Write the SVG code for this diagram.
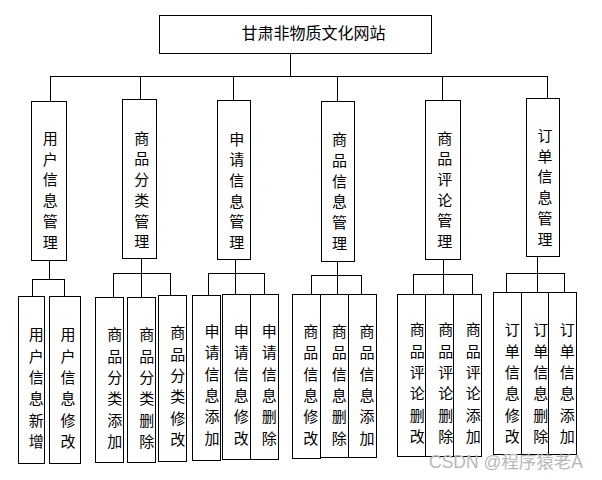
<svg xmlns="http://www.w3.org/2000/svg" width="602" height="480" viewBox="0 0 602 480">
<style>
rect{fill:#fff;stroke:#000;stroke-width:1}
.c line{stroke:#000;stroke-width:1}
text{font-family:"Noto Sans CJK SC","Noto Sans",sans-serif;font-size:15px;fill:#000;text-anchor:middle;dominant-baseline:central}
.t{font-size:16px}
.wm{font-family:"Liberation Sans","Noto Sans CJK SC",sans-serif;font-size:17.5px;fill:#b8b8b8;text-anchor:start;dominant-baseline:auto}
</style>
<rect width="602" height="480" style="fill:#fff;stroke:none"/>
<g class="c" id="connectors">
<line x1="290.5" y1="53" x2="290.5" y2="76.5"/>
<line x1="50" y1="76.5" x2="548" y2="76.5"/>
<line x1="50.5" y1="76.5" x2="50.5" y2="101"/>
<line x1="140.5" y1="76.5" x2="140.5" y2="99"/>
<line x1="233.5" y1="76.5" x2="233.5" y2="100"/>
<line x1="337.5" y1="76.5" x2="337.5" y2="101"/>
<line x1="442.5" y1="76.5" x2="442.5" y2="100"/>
<line x1="547.5" y1="76.5" x2="547.5" y2="98"/>
<line x1="49.5" y1="260" x2="49.5" y2="279.5"/>
<line x1="32" y1="279.5" x2="65" y2="279.5"/>
<line x1="32.5" y1="279.5" x2="32.5" y2="296"/>
<line x1="64.5" y1="279.5" x2="64.5" y2="296"/>
<line x1="141.5" y1="258" x2="141.5" y2="297"/>
<line x1="113" y1="273.5" x2="171" y2="273.5"/>
<line x1="113.5" y1="273.5" x2="113.5" y2="297"/>
<line x1="170.5" y1="273.5" x2="170.5" y2="295"/>
<line x1="235.5" y1="259" x2="235.5" y2="294"/>
<line x1="208" y1="273.5" x2="265" y2="273.5"/>
<line x1="208.5" y1="273.5" x2="208.5" y2="295"/>
<line x1="264.5" y1="273.5" x2="264.5" y2="294"/>
<line x1="337.5" y1="261" x2="337.5" y2="294"/>
<line x1="311" y1="275.5" x2="362" y2="275.5"/>
<line x1="311.5" y1="275.5" x2="311.5" y2="294"/>
<line x1="361.5" y1="275.5" x2="361.5" y2="294"/>
<line x1="443.5" y1="259" x2="443.5" y2="294"/>
<line x1="413" y1="274.5" x2="473" y2="274.5"/>
<line x1="413.5" y1="274.5" x2="413.5" y2="294"/>
<line x1="472.5" y1="274.5" x2="472.5" y2="294"/>
<line x1="537.5" y1="256" x2="537.5" y2="292"/>
<line x1="506" y1="273.5" x2="565" y2="273.5"/>
<line x1="506.5" y1="273.5" x2="506.5" y2="292"/>
<line x1="564.5" y1="273.5" x2="564.5" y2="292"/>
</g>
<g id="root">
<rect x="159.5" y="15.5" width="272" height="38"/>
<text class="t" x="313.5" y="32">甘肃非物质文化网站</text>
</g>
<g id="m1"><rect x="31.5" y="101.5" width="35" height="159"/>
<text><tspan x="50.3" y="137">用</tspan><tspan x="50.3" y="157.7">户</tspan><tspan x="50.3" y="178.4">信</tspan><tspan x="50.3" y="199.1">息</tspan><tspan x="50.3" y="219.8">管</tspan><tspan x="50.3" y="240.5">理</tspan></text></g>
<g id="m2"><rect x="122.5" y="99.5" width="34" height="159"/>
<text><tspan x="141.7" y="136.7">商</tspan><tspan x="141.7" y="157.4">品</tspan><tspan x="141.7" y="178.1">分</tspan><tspan x="141.7" y="198.8">类</tspan><tspan x="141.7" y="219.5">管</tspan><tspan x="141.7" y="240.2">理</tspan></text></g>
<g id="m3"><rect x="217.5" y="100.5" width="33" height="159"/>
<text><tspan x="236.7" y="137.5">申</tspan><tspan x="236.7" y="158.2">请</tspan><tspan x="236.7" y="178.9">信</tspan><tspan x="236.7" y="199.6">息</tspan><tspan x="236.7" y="220.3">管</tspan><tspan x="236.7" y="241">理</tspan></text></g>
<g id="m4"><rect x="321.5" y="101.5" width="33" height="160"/>
<text><tspan x="339.5" y="138.2">商</tspan><tspan x="339.5" y="158.9">品</tspan><tspan x="339.5" y="179.6">信</tspan><tspan x="339.5" y="200.3">息</tspan><tspan x="339.5" y="221">管</tspan><tspan x="339.5" y="241.7">理</tspan></text></g>
<g id="m5"><rect x="425.5" y="100.5" width="35" height="159"/>
<text><tspan x="444.7" y="136.5">商</tspan><tspan x="444.7" y="157.2">品</tspan><tspan x="444.7" y="177.9">评</tspan><tspan x="444.7" y="198.6">论</tspan><tspan x="444.7" y="219.3">管</tspan><tspan x="444.7" y="240">理</tspan></text></g>
<g id="m6"><rect x="526.5" y="98.5" width="33" height="158"/>
<text><tspan x="545" y="134">订</tspan><tspan x="545" y="154.7">单</tspan><tspan x="545" y="175.4">信</tspan><tspan x="545" y="196.1">息</tspan><tspan x="545" y="216.8">管</tspan><tspan x="545" y="237.5">理</tspan></text></g>
<g id="l1"><rect x="18.5" y="296.5" width="26" height="167"/>
<text><tspan x="36.3" y="333.3">用</tspan><tspan x="36.3" y="354.6">户</tspan><tspan x="36.3" y="375.9">信</tspan><tspan x="36.3" y="397.2">息</tspan><tspan x="36.3" y="418.5">新</tspan><tspan x="36.3" y="439.8">增</tspan></text></g>
<g id="l2"><rect x="49.5" y="296.5" width="31" height="167"/>
<text><tspan x="68" y="333.3">用</tspan><tspan x="68" y="354.6">户</tspan><tspan x="68" y="375.9">信</tspan><tspan x="68" y="397.2">息</tspan><tspan x="68" y="418.5">修</tspan><tspan x="68" y="439.8">改</tspan></text></g>
<g id="l3"><rect x="95.5" y="297.5" width="28" height="165"/>
<text><tspan x="114.7" y="333.3">商</tspan><tspan x="114.7" y="354.6">品</tspan><tspan x="114.7" y="375.9">分</tspan><tspan x="114.7" y="397.2">类</tspan><tspan x="114.7" y="418.5">添</tspan><tspan x="114.7" y="439.8">加</tspan></text></g>
<g id="l4"><rect x="127.5" y="297.5" width="28" height="165"/>
<text><tspan x="146.7" y="333.3">商</tspan><tspan x="146.7" y="354.6">品</tspan><tspan x="146.7" y="375.9">分</tspan><tspan x="146.7" y="397.2">类</tspan><tspan x="146.7" y="418.5">删</tspan><tspan x="146.7" y="439.8">除</tspan></text></g>
<g id="l5"><rect x="158.5" y="295.5" width="28" height="166"/>
<text><tspan x="177.7" y="331.3">商</tspan><tspan x="177.7" y="352.6">品</tspan><tspan x="177.7" y="373.9">分</tspan><tspan x="177.7" y="395.2">类</tspan><tspan x="177.7" y="416.5">修</tspan><tspan x="177.7" y="437.8">改</tspan></text></g>
<g id="l6"><rect x="192.5" y="295.5" width="28" height="165"/>
<text><tspan x="212" y="330">申</tspan><tspan x="212" y="351.3">请</tspan><tspan x="212" y="372.6">信</tspan><tspan x="212" y="393.9">息</tspan><tspan x="212" y="415.2">添</tspan><tspan x="212" y="436.5">加</tspan></text></g>
<g id="l7"><rect x="222.5" y="294.5" width="28" height="165"/>
<text><tspan x="241.3" y="330">申</tspan><tspan x="241.3" y="351.3">请</tspan><tspan x="241.3" y="372.6">信</tspan><tspan x="241.3" y="393.9">息</tspan><tspan x="241.3" y="415.2">修</tspan><tspan x="241.3" y="436.5">改</tspan></text></g>
<g id="l8"><rect x="250.5" y="294.5" width="28" height="165"/>
<text><tspan x="269.3" y="330">申</tspan><tspan x="269.3" y="351.3">请</tspan><tspan x="269.3" y="372.6">信</tspan><tspan x="269.3" y="393.9">息</tspan><tspan x="269.3" y="415.2">删</tspan><tspan x="269.3" y="436.5">除</tspan></text></g>
<g id="l9"><rect x="292.5" y="294.5" width="28" height="164"/>
<text><tspan x="310.7" y="330">商</tspan><tspan x="310.7" y="351.3">品</tspan><tspan x="310.7" y="372.6">信</tspan><tspan x="310.7" y="393.9">息</tspan><tspan x="310.7" y="415.2">修</tspan><tspan x="310.7" y="436.5">改</tspan></text></g>
<g id="l10"><rect x="320.5" y="294.5" width="28" height="163"/>
<text><tspan x="339.3" y="330">商</tspan><tspan x="339.3" y="351.3">品</tspan><tspan x="339.3" y="372.6">信</tspan><tspan x="339.3" y="393.9">息</tspan><tspan x="339.3" y="415.2">删</tspan><tspan x="339.3" y="436.5">除</tspan></text></g>
<g id="l11"><rect x="348.5" y="294.5" width="28" height="163"/>
<text><tspan x="367" y="330">商</tspan><tspan x="367" y="351.3">品</tspan><tspan x="367" y="372.6">信</tspan><tspan x="367" y="393.9">息</tspan><tspan x="367" y="415.2">添</tspan><tspan x="367" y="436.5">加</tspan></text></g>
<g id="l12"><rect x="397.5" y="294.5" width="28" height="162"/>
<text><tspan x="417.3" y="328.3">商</tspan><tspan x="417.3" y="349.6">品</tspan><tspan x="417.3" y="370.9">评</tspan><tspan x="417.3" y="392.2">论</tspan><tspan x="417.3" y="413.5">删</tspan><tspan x="417.3" y="434.8">改</tspan></text></g>
<g id="l13"><rect x="425.5" y="294.5" width="28" height="162"/>
<text><tspan x="445.7" y="328.3">商</tspan><tspan x="445.7" y="349.6">品</tspan><tspan x="445.7" y="370.9">评</tspan><tspan x="445.7" y="392.2">论</tspan><tspan x="445.7" y="413.5">删</tspan><tspan x="445.7" y="434.8">除</tspan></text></g>
<g id="l14"><rect x="453.5" y="294.5" width="28" height="162"/>
<text><tspan x="473.3" y="328.3">商</tspan><tspan x="473.3" y="349.6">品</tspan><tspan x="473.3" y="370.9">评</tspan><tspan x="473.3" y="392.2">论</tspan><tspan x="473.3" y="413.5">添</tspan><tspan x="473.3" y="434.8">加</tspan></text></g>
<g id="l15"><rect x="493.5" y="292.5" width="28" height="162"/>
<text><tspan x="512.3" y="328.3">订</tspan><tspan x="512.3" y="349.6">单</tspan><tspan x="512.3" y="370.9">信</tspan><tspan x="512.3" y="392.2">息</tspan><tspan x="512.3" y="413.5">修</tspan><tspan x="512.3" y="434.8">改</tspan></text></g>
<g id="l16"><rect x="521.5" y="292.5" width="27" height="162"/>
<text><tspan x="540.7" y="328.3">订</tspan><tspan x="540.7" y="349.6">单</tspan><tspan x="540.7" y="370.9">信</tspan><tspan x="540.7" y="392.2">息</tspan><tspan x="540.7" y="413.5">删</tspan><tspan x="540.7" y="434.8">除</tspan></text></g>
<g id="l17"><rect x="548.5" y="292.5" width="28" height="162"/>
<text><tspan x="567.3" y="328.3">订</tspan><tspan x="567.3" y="349.6">单</tspan><tspan x="567.3" y="370.9">信</tspan><tspan x="567.3" y="392.2">息</tspan><tspan x="567.3" y="413.5">添</tspan><tspan x="567.3" y="434.8">加</tspan></text></g>
<text class="wm" x="429" y="468">CSDN @程序猿老A</text>
</svg>
